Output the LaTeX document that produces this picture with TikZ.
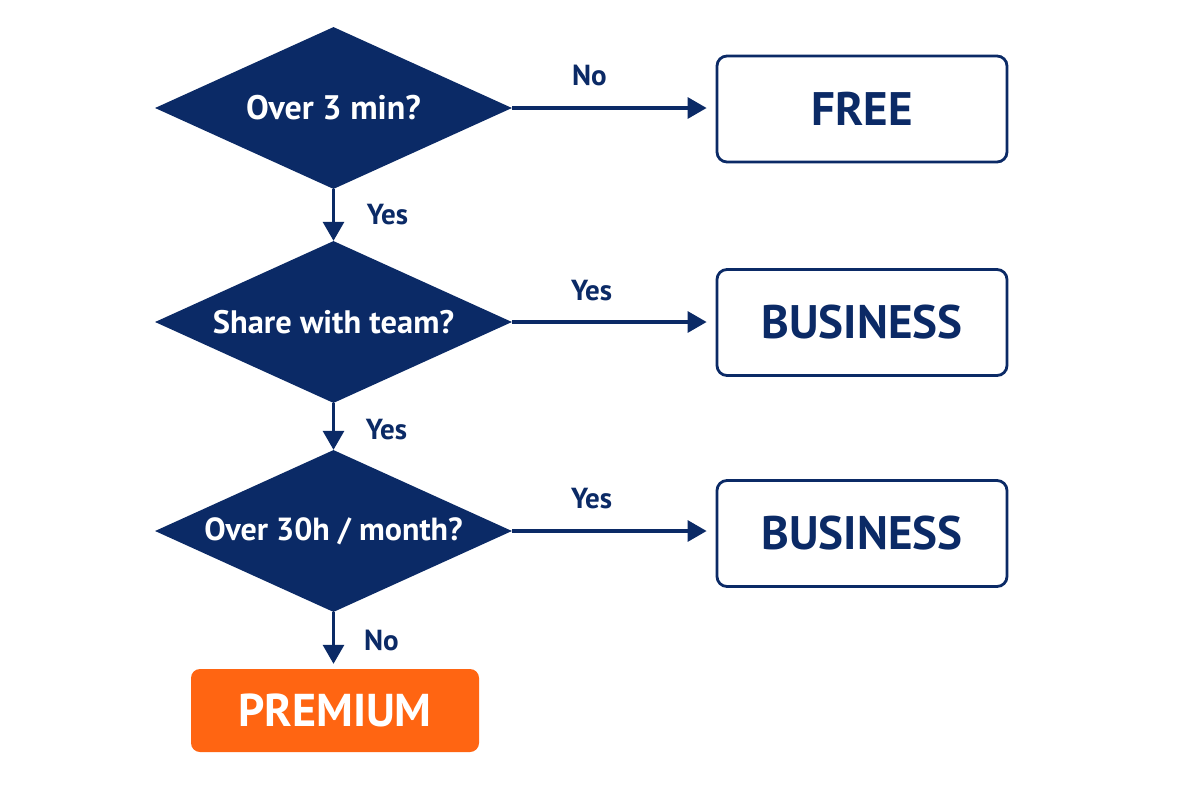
\documentclass[tikz,border=0pt]{standalone}
\usepackage{fontspec}
\setmainfont{PT Sans}
\usetikzlibrary{shapes.geometric,arrows.meta}
\definecolor{navy}{HTML}{0B2A66}
\definecolor{orng}{HTML}{FF6512}
\tikzset{
  decision/.style={diamond, fill=navy, draw=none, inner sep=0pt, aspect=2.2,
    minimum width=357pt, minimum height=162pt, text=white,
    font=\bfseries\fontsize{32}{36}\selectfont},
  plan/.style={rectangle, rounded corners=10pt, draw=navy, line width=2.8pt, fill=white,
    minimum width=290pt, minimum height=106pt, text=navy,
    font=\bfseries\fontsize{47}{50}\selectfont},
  premium/.style={rectangle, rounded corners=9pt, fill=orng, draw=none,
    minimum width=288pt, minimum height=83pt, text=white,
    font=\bfseries\fontsize{46}{50}\selectfont},
  flow/.style={draw=navy, line width=3.1pt, -{Triangle[length=19pt,width=21pt]}},
  lbl/.style={text=navy, font=\bfseries\fontsize{29}{32}\selectfont},
}
\begin{document}
\begin{tikzpicture}[x=1pt,y=-1pt]
\useasboundingbox[fill=white] (0,0) rectangle (1180,787);
\node[decision, font=\bfseries\fontsize{34}{38}\selectfont] (d1) at (333.5,108) {Over 3 min?};
\node[decision, font=\bfseries\fontsize{32.5}{36}\selectfont] (d2) at (333.5,322) {Share with team?};
\node[decision] (d3) at (333.5,531) {Over 30h / month?};
\node[plan] (free) at (862,109) {FREE};
\node[plan] (bus1) at (862,322.5) {BUSINESS};
\node[plan] (bus2) at (862,533.5) {BUSINESS};
\node[premium] (prem) at (335,710.5) {PREMIUM};
\draw[flow, shorten >=9pt] (d1.east) -- node[lbl, pos=0.38, yshift=33pt] {No} (d1.east -| free.west);
\draw[flow, shorten >=9pt] (d2.east) -- node[lbl, pos=0.39, yshift=31pt] {Yes} (d2.east -| bus1.west);
\draw[flow, shorten >=9pt] (d3.east) -- node[lbl, pos=0.39, yshift=32pt] {Yes} (d3.east -| bus2.west);
\draw[flow] (d1.south) -- node[lbl, pos=0.5, xshift=54pt] {Yes} (d2.north);
\draw[flow] (d2.south) -- node[lbl, pos=0.5, xshift=53pt, yshift=-3pt] {Yes} (d3.north);
\draw[flow, shorten >=5pt] (d3.south) -- node[lbl, pos=0.5, xshift=48pt] {No} (prem.north -| d3.south);
\end{tikzpicture}
\end{document}
